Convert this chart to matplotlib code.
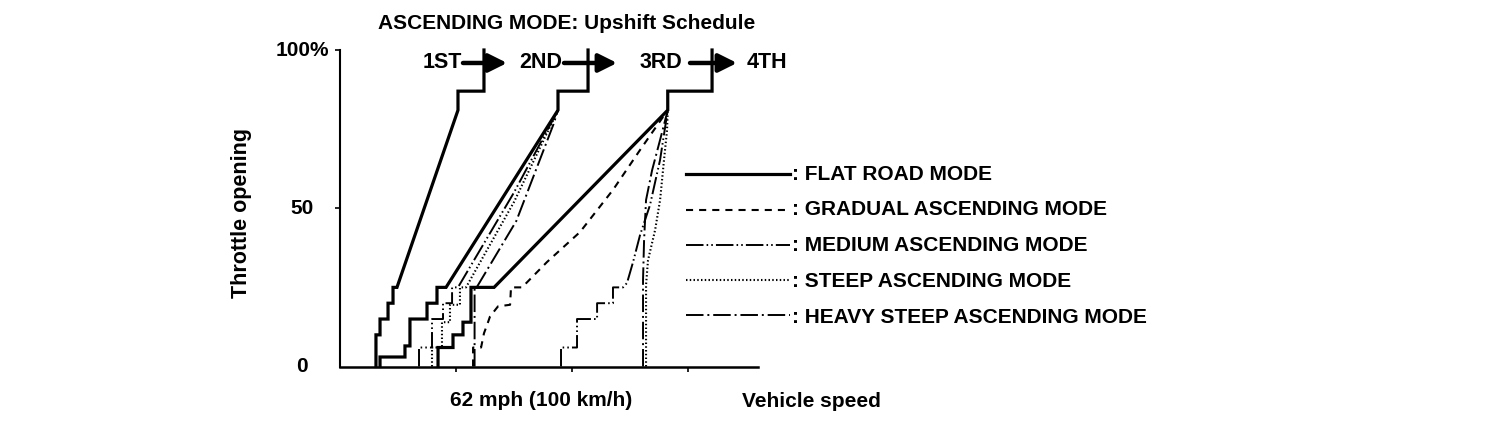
import matplotlib
matplotlib.use("Agg")
import matplotlib.pyplot as plt
from matplotlib.lines import Line2D

# ---------------- data (speed in km/h-like units, throttle in %) ----------------
speed_ticks = [100, 200, 300]
throttle_ticks = [0, 50, 100]
throttle_labels = ["0", "50", "100%"]

# FLAT ROAD MODE
flat_12_speed = [31.0, 31.0, 34.5, 34.5, 41.4, 41.4, 45.7, 45.7, 49.1, 101.7, 101.7, 124.1, 124.1]
flat_12_thr = [0, 10, 10, 15, 15, 20, 20, 25, 25, 81, 87, 87, 100]
flat_23_speed = [34.5, 34.5, 56.0, 56.0, 60.3, 60.3, 75.0, 75.0, 83.6, 83.6, 91.4, 187.9, 187.9, 213.8, 213.8]
flat_23_thr = [0, 3, 3, 6.5, 6.5, 15, 15, 20, 20, 25, 25, 81, 87, 87, 100]
flat_34_speed = [84.5, 84.5, 97.4, 97.4, 106.0, 106.0, 112.9, 112.9, 132.8, 282.5, 282.5, 320.7, 320.7]
flat_34_thr = [0, 6, 6, 10, 10, 14, 14, 25, 25, 81, 87, 87, 100]

# GRADUAL ASCENDING MODE
gradual_34_speed = [114.7, 114.7, 121.6, 124.1, 127.6, 129.3, 136.2, 146.6, 147.4, 156.9, 178.4, 206.9, 235.3, 258.6, 282.5]
gradual_34_thr = [0, 6, 6, 10.5, 14, 15.8, 19, 19.5, 25, 25, 33, 42.5, 55.8, 68.4, 81]

# MEDIUM ASCENDING MODE
medium_23_speed = [68.1, 68.1, 79.3, 79.3, 88.8, 88.8, 96.6, 96.6, 101.7, 150.0, 187.9]
medium_23_thr = [0, 6, 6, 15, 15, 20, 20, 25, 25, 55, 81]
medium_34_speed = [190.5, 190.5, 204.3, 204.3, 221.6, 221.6, 235.3, 235.3, 244.0, 247.4, 252.6, 258.6, 267.2, 275.9, 282.5]
medium_34_thr = [0, 6, 6, 15, 15, 20, 20, 25, 25, 26.4, 33, 41.5, 51, 65.3, 81]

# STEEP ASCENDING MODE
steep_23_speed = [79.3, 79.3, 87.9, 87.9, 94.8, 94.8, 103.4, 103.4, 108.6, 150.0, 187.9]
steep_23_thr = [0, 6, 6, 14, 14, 19.5, 19.5, 25, 25, 52, 81]
steep_34_speed = [263.8, 263.8, 265.5, 271.6, 275.9, 279.3, 281.9, 282.5]
steep_34_thr = [0, 25.8, 33.6, 43.1, 52.6, 65.3, 74.7, 81]

# HEAVY STEEP ASCENDING MODE
heavy_23_speed = [116.0, 116.0, 117.8, 152.0, 184.0, 187.9]
heavy_23_thr = [0, 25, 25, 46.0, 76.5, 81]
heavy_34_speed = [261.2, 261.2, 262.1, 263.8, 269.0, 275.9, 282.5]
heavy_34_thr = [0, 27.3, 39.9, 52.6, 62, 71.6, 81]

mode_labels = [": FLAT ROAD MODE", ": GRADUAL ASCENDING MODE", ": MEDIUM ASCENDING MODE",
               ": STEEP ASCENDING MODE", ": HEAVY STEEP ASCENDING MODE"]
gear_labels = ["1ST", "2ND", "3RD", "4TH"]

# ---------------- styles ----------------
plt.rcParams["font.family"] = ["Liberation Sans", "DejaVu Sans"]
plt.rcParams["font.weight"] = "bold"

W, H = 1504, 438
st_flat = dict(color="black", lw=2.3, ls="-", solid_joinstyle="miter")
st_grad = dict(color="black", lw=1.5, ls=(0, (3.4, 2.9)))
st_med = dict(color="black", lw=1.4, ls=(0, (9, 1.6, 0.8, 1.6, 0.8, 1.6)))
st_steep = dict(color="black", lw=1.5, ls=(0, (0.7, 1.1)))
st_heavy = dict(color="black", lw=1.4, ls=(0, (9, 2, 1, 2)))
styles = [st_flat, st_grad, st_med, st_steep, st_heavy]

fig = plt.figure(figsize=(W / 100, H / 100), dpi=100)
ax = fig.add_axes([340 / W, 1 - 366.5 / H, 418 / W, 316.5 / H])
ax.set_xlim(0, 360.3)
ax.set_ylim(0, 100)
ax.patch.set_visible(False)
for s in ["top", "right"]:
    ax.spines[s].set_visible(False)
ax.spines["left"].set_linewidth(1.5)
ax.spines["bottom"].set_linewidth(1.8)
ax.set_xticks(speed_ticks)
ax.set_xticklabels([])
ax.set_yticks(throttle_ticks[1:])
ax.set_yticklabels([])
ax.tick_params(axis="both", direction="out", length=3.6, width=1.2)

# curves
ax.plot(flat_12_speed, flat_12_thr, clip_on=False, **st_flat)
ax.plot(flat_23_speed, flat_23_thr, clip_on=False, **st_flat)
ax.plot(flat_34_speed, flat_34_thr, clip_on=False, **st_flat)
ax.plot(gradual_34_speed, gradual_34_thr, clip_on=False, **st_grad)
ax.plot(medium_23_speed, medium_23_thr, clip_on=False, **st_med)
ax.plot(medium_34_speed, medium_34_thr, clip_on=False, **st_med)
ax.plot(steep_23_speed, steep_23_thr, clip_on=False, **st_steep)
ax.plot(steep_34_speed, steep_34_thr, clip_on=False, **st_steep)
ax.plot(heavy_23_speed, heavy_23_thr, clip_on=False, **st_heavy)
ax.plot(heavy_34_speed, heavy_34_thr, clip_on=False, **st_heavy)

# y tick labels
ytr = ax.get_yaxis_transform()
for v, lab in zip(throttle_ticks, throttle_labels):
    ax.text(-38 / 418, v, lab, transform=ytr, ha="center", va="center",
            fontsize=15, fontweight="bold")

# gear arrows at top
arrow_y = 95.9
gear_text_x = [106.0, 192.2, 295.7]
arrow_tail = [106.0, 193.1, 301.7]
arrow_tip = [144.0, 238.8, 342.2]
for lab, tx, a0, a1 in zip(gear_labels[:3], gear_text_x, arrow_tail, arrow_tip):
    ax.text(tx - 0.5, arrow_y, lab, ha="right", va="center", fontsize=15.5,
            fontweight="bold", clip_on=False)
    ax.annotate("", xy=(a1, arrow_y), xytext=(a0, arrow_y), annotation_clip=False,
                arrowprops=dict(arrowstyle="-|>,head_length=11,head_width=5.5",
                                mutation_scale=1, lw=3.2, color="black",
                                shrinkA=0, shrinkB=0))
ax.text(350.9, arrow_y, gear_labels[3], ha="left", va="center", fontsize=15.5,
        fontweight="bold", clip_on=False)

# texts
fig.text(378 / W, 1 - 29 / H, "ASCENDING MODE: Upshift Schedule", ha="left",
         va="baseline", fontsize=15, fontweight="bold")
fig.text(241 / W, 1 - 213 / H, "Throttle opening", rotation=90, ha="center",
         va="center", fontsize=15.5, fontweight="bold")
fig.text(450 / W, 1 - 406.5 / H, "62 mph (100 km/h)", ha="left", va="baseline",
         fontsize=15, fontweight="bold")
fig.text(742 / W, 1 - 407 / H, "Vehicle speed", ha="left", va="baseline",
         fontsize=15, fontweight="bold")

# legend (manual)
for i, (lab, st) in enumerate(zip(mode_labels, styles)):
    yl = 1 - (174.3 + 35.2 * i) / H
    yb = 1 - (179.5 + 35.8 * i) / H
    fig.add_artist(Line2D([686 / W, 790 / W], [yl, yl], transform=fig.transFigure, **st))
    fig.text(792 / W, yb, lab, ha="left", va="baseline", fontsize=15, fontweight="bold")

fig.savefig("out.png", dpi=100, facecolor="white")
